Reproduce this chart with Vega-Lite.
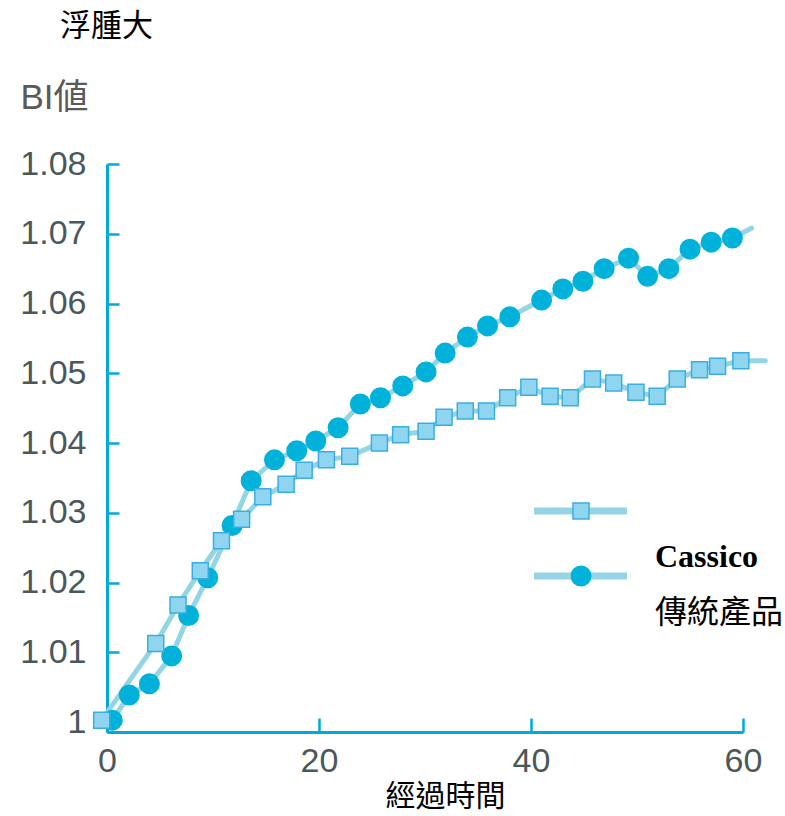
{
  "$schema": "https://vega.github.io/schema/vega-lite/v6.json",
  "width": 636,
  "height": 568,
  "autosize": {"type": "none"},
  "padding": {"left": 107, "top": 164, "right": 42, "bottom": 84},
  "background": "white",
  "title": {"text": "浮腫大", "anchor": "start", "frame": "group", "dx": -47, "offset": 37, "font": "Noto Sans CJK TC", "fontSize": 31, "fontWeight": "normal", "color": "#000000"},
  "config": {"view": {"stroke": null}},
  "data": {"values": [
    {"series": "傳統產品", "t": 0.5, "v": 1.0003},
    {"series": "傳統產品", "t": 2.1, "v": 1.0039},
    {"series": "傳統產品", "t": 4.0, "v": 1.0055},
    {"series": "傳統產品", "t": 6.1, "v": 1.0095},
    {"series": "傳統產品", "t": 7.7, "v": 1.0153},
    {"series": "傳統產品", "t": 9.5, "v": 1.0207},
    {"series": "傳統產品", "t": 11.8, "v": 1.0282},
    {"series": "傳統產品", "t": 13.6, "v": 1.0346},
    {"series": "傳統產品", "t": 15.8, "v": 1.0376},
    {"series": "傳統產品", "t": 17.9, "v": 1.0389},
    {"series": "傳統產品", "t": 19.7, "v": 1.0403},
    {"series": "傳統產品", "t": 21.8, "v": 1.0422},
    {"series": "傳統產品", "t": 23.9, "v": 1.0456},
    {"series": "傳統產品", "t": 25.8, "v": 1.0465},
    {"series": "傳統產品", "t": 27.9, "v": 1.0482},
    {"series": "傳統產品", "t": 30.1, "v": 1.0502},
    {"series": "傳統產品", "t": 31.9, "v": 1.0529},
    {"series": "傳統產品", "t": 34.0, "v": 1.0552},
    {"series": "傳統產品", "t": 35.9, "v": 1.0568},
    {"series": "傳統產品", "t": 38.0, "v": 1.0581},
    {"series": "傳統產品", "t": 41.0, "v": 1.0605},
    {"series": "傳統產品", "t": 43.0, "v": 1.0621},
    {"series": "傳統產品", "t": 44.9, "v": 1.0632},
    {"series": "傳統產品", "t": 46.9, "v": 1.0650},
    {"series": "傳統產品", "t": 49.2, "v": 1.0665},
    {"series": "傳統產品", "t": 51.0, "v": 1.0639},
    {"series": "傳統產品", "t": 53.0, "v": 1.0650},
    {"series": "傳統產品", "t": 55.0, "v": 1.0678},
    {"series": "傳統產品", "t": 57.0, "v": 1.0688},
    {"series": "傳統產品", "t": 59.0, "v": 1.0694},
    {"series": "傳統產品", "t": 60.8, "v": 1.0708},
    {"series": "Cassico", "t": -0.5, "v": 1.0003},
    {"series": "Cassico", "t": 4.6, "v": 1.0113},
    {"series": "Cassico", "t": 6.7, "v": 1.0168},
    {"series": "Cassico", "t": 8.8, "v": 1.0217},
    {"series": "Cassico", "t": 10.8, "v": 1.0260},
    {"series": "Cassico", "t": 12.7, "v": 1.0291},
    {"series": "Cassico", "t": 14.7, "v": 1.0323},
    {"series": "Cassico", "t": 16.9, "v": 1.0341},
    {"series": "Cassico", "t": 18.6, "v": 1.0361},
    {"series": "Cassico", "t": 20.7, "v": 1.0376},
    {"series": "Cassico", "t": 22.9, "v": 1.0381},
    {"series": "Cassico", "t": 25.7, "v": 1.0400},
    {"series": "Cassico", "t": 27.7, "v": 1.0412},
    {"series": "Cassico", "t": 30.1, "v": 1.0417},
    {"series": "Cassico", "t": 31.8, "v": 1.0437},
    {"series": "Cassico", "t": 33.8, "v": 1.0446},
    {"series": "Cassico", "t": 35.8, "v": 1.0446},
    {"series": "Cassico", "t": 37.8, "v": 1.0465},
    {"series": "Cassico", "t": 39.8, "v": 1.0480},
    {"series": "Cassico", "t": 41.8, "v": 1.0467},
    {"series": "Cassico", "t": 43.7, "v": 1.0465},
    {"series": "Cassico", "t": 45.8, "v": 1.0492},
    {"series": "Cassico", "t": 47.8, "v": 1.0486},
    {"series": "Cassico", "t": 49.9, "v": 1.0473},
    {"series": "Cassico", "t": 51.9, "v": 1.0467},
    {"series": "Cassico", "t": 53.8, "v": 1.0492},
    {"series": "Cassico", "t": 55.9, "v": 1.0505},
    {"series": "Cassico", "t": 57.6, "v": 1.0510},
    {"series": "Cassico", "t": 59.8, "v": 1.0518},
    {"series": "Cassico", "t": 62.1, "v": 1.0518}
  ]},
  "encoding": {
    "x": {"field": "t", "type": "quantitative",
      "scale": {"domain": [0, 60], "nice": false, "zero": false},
      "axis": {"values": [0, 20, 40, 60], "grid": false, "labelFlush": false,
        "title": "經過時間", "titleFont": "Noto Sans CJK TC", "titleFontSize": 30, "titleFontWeight": "normal", "titleColor": "#000000",
        "titleX": 338, "titlePadding": 3,
        "domainColor": "#00a9dc", "domainWidth": 3, "tickColor": "#00a9dc", "tickWidth": 2.5, "tickSize": -14,
        "labelFont": "Liberation Sans", "labelFontSize": 34, "labelColor": "#4a585c", "labelPadding": 26}},
    "y": {"field": "v", "type": "quantitative",
      "scale": {"domain": [0.9986, 1.08], "nice": false, "zero": false},
      "axis": {"values": [1, 1.01, 1.02, 1.03, 1.04, 1.05, 1.06, 1.07, 1.08], "format": ".2~f", "grid": false, "labelFlush": false,
        "title": "BI値", "titleAngle": 0, "titleX": -87, "titleY": -67, "titleAlign": "left", "titleBaseline": "middle",
        "titleFont": "Liberation Sans, Noto Sans CJK JP", "titleFontSize": 35, "titleFontWeight": "normal", "titleColor": "#5a5a5a",
        "domainColor": "#00a9dc", "domainWidth": 3, "tickColor": "#00a9dc", "tickWidth": 2.5, "tickSize": -12,
        "labelFont": "Liberation Sans", "labelFontSize": 34, "labelColor": "#4a585c", "labelPadding": 33}}
  },
  "layer": [
    {
      "mark": {"type": "line", "strokeWidth": 5, "strokeCap": "round", "strokeJoin": "round"},
      "encoding": {
        "color": {"field": "series", "type": "nominal",
          "scale": {"domain": ["Cassico", "傳統產品"], "range": ["#93d5e5", "#93d5e5"]},
          "legend": {"orient": "none", "legendX": 423.5, "legendY": 314.5, "title": null, "padding": 0, "clipHeight": 65, "rowPadding": 0,
            "symbolType": "stroke", "symbolSize": 8649, "symbolStrokeWidth": 7,
            "labelExpr": "''", "labelFontSize": 1, "labelOpacity": 0}}
      }
    },
    {
      "transform": [{"filter": "datum.t <= 60"}],
      "mark": {"type": "point", "opacity": 1, "strokeWidth": 1.5},
      "encoding": {
        "shape": {"field": "series", "type": "nominal", "scale": {"range": ["square", "circle"]},
          "legend": {"orient": "none", "legendX": 463.5, "legendY": 314.5, "title": null, "padding": 0, "clipHeight": 65, "rowPadding": 0,
            "labelExpr": "''", "labelFontSize": 1, "labelOpacity": 0}},
        "fill": {"field": "series", "type": "nominal", "scale": {"range": ["#8fd5f0", "#00b2da"]}},
        "stroke": {"field": "series", "type": "nominal", "scale": {"range": ["#3aaee0", "#00b2da"]}},
        "size": {"field": "series", "type": "nominal", "scale": {"range": [256, 380]}},
        "opacity": {"field": "series", "type": "nominal",
          "scale": {"domain": ["傳統產品", "Cassico"], "range": [1, 1]},
          "legend": {"orient": "none", "legendX": 516, "legendY": 365, "title": null, "padding": 0, "clipHeight": 56, "rowPadding": 0,
            "values": ["Cassico", "傳統產品"],
            "symbolSize": 1, "symbolFillColor": "transparent", "symbolStrokeColor": "transparent", "symbolStrokeWidth": 0,
            "labelOffset": 0, "labelBaseline": "middle",
            "labelFont": "Liberation Serif, Noto Sans CJK TC", "labelFontSize": 32, "labelColor": "#000000",
            "labelFontWeight": {"expr": "datum.label == 'Cassico' ? 'bold' : 'normal'"}}}
      }
    }
  ]
}
